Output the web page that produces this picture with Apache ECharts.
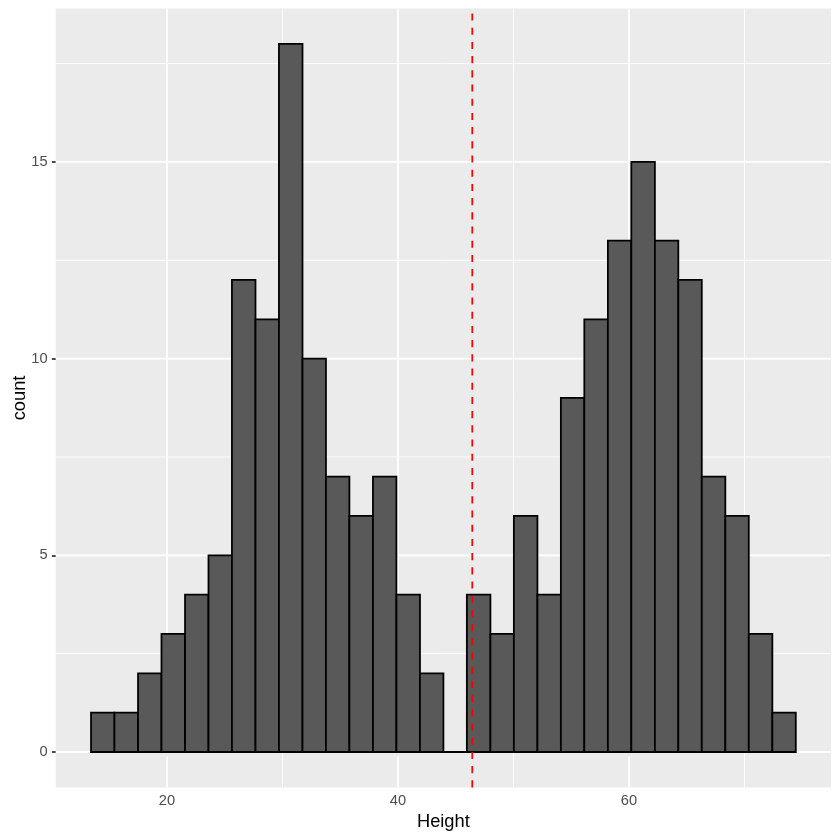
<!DOCTYPE html>
<html>
<head>
<meta charset="utf-8">
<script src="https://cdn.jsdelivr.net/npm/echarts@6/dist/echarts.min.js"></script>
<style>html,body{margin:0;padding:0;background:#fff;}#c{width:840px;height:840px;}</style>
</head>
<body>
<div id="c"></div>
<script>
// Histogram bin edges (31 edges -> 30 bins)
const binEdges = [13.42, 15.45, 17.49, 19.52, 21.56, 23.59, 25.62, 27.66, 29.69, 31.73,
  33.76, 35.79, 37.83, 39.86, 41.90, 43.93, 45.96, 48.00, 50.03, 52.07,
  54.10, 56.13, 58.17, 60.20, 62.24, 64.27, 66.30, 68.34, 70.37, 72.41, 74.44];
const counts = [1, 1, 2, 3, 4, 5, 12, 11, 18, 10, 7, 6, 7, 4, 2, 0,
  4, 3, 6, 4, 9, 11, 13, 15, 13, 12, 7, 6, 3, 1];
const meanHeight = 46.43;
const xTicks = [20, 40, 60];
const xMinor = [10, 30, 50, 70];
const yTicks = [0, 5, 10, 15];
const yMinor = [2.5, 7.5, 12.5, 17.5];
const xRange = [10.37, 77.48];
const yRange = [-0.9, 18.9];

const barData = counts.map((c, i) => [binEdges[i], binEdges[i + 1], c]);
const gridData = []
  .concat(xTicks.map(v => ['x', v, 1]))
  .concat(xMinor.map(v => ['x', v, 0]))
  .concat(yTicks.map(v => ['y', v, 1]))
  .concat(yMinor.map(v => ['y', v, 0]));

const FONT = '"Liberation Sans", Arial, Helvetica, sans-serif';
const chart = echarts.init(document.getElementById('c'), null, {renderer: 'canvas'});

chart.setOption({
  animation: false,
  backgroundColor: '#ffffff',
  grid: {
    left: 55.8, right: 9.1, top: 8.5, bottom: 52.6,
    show: true, backgroundColor: '#EBEBEB', borderWidth: 0,
    containLabel: false,
    outerBoundsMode: 'none'
  },
  xAxis: {
    type: 'value', min: xRange[0], max: xRange[1],
    name: 'Height', nameLocation: 'middle', nameGap: 26, nameMoveOverlap: false,
    nameTextStyle: {color: '#000', fontSize: 18.3, fontFamily: FONT},
    axisLine: {show: false},
    axisTick: {show: true, length: 4.6, customValues: xTicks, lineStyle: {color: '#333333', width: 1.78}},
    axisLabel: {show: true, customValues: xTicks, margin: 6.5, color: '#4D4D4D', fontSize: 14.67, fontFamily: FONT},
    splitLine: {show: false}
  },
  yAxis: {
    type: 'value', min: yRange[0], max: yRange[1],
    name: 'count', nameLocation: 'middle', nameGap: 27, nameRotate: 90, nameMoveOverlap: false,
    nameTextStyle: {color: '#000', fontSize: 18.3, fontFamily: FONT},
    axisLine: {show: false},
    axisTick: {show: true, length: 4.6, customValues: yTicks, lineStyle: {color: '#333333', width: 1.78}},
    axisLabel: {show: true, customValues: yTicks, margin: 8.2, color: '#4D4D4D', fontSize: 14.67, fontFamily: FONT},
    splitLine: {show: false}
  },
  series: [
    {
      type: 'custom', z: 1, silent: true,
      data: gridData,
      encode: {x: -1, y: -1},
      renderItem: function (params, api) {
        const cs = params.coordSys;
        const dir = api.value(0);
        const v = api.value(1);
        const major = api.value(2) === 1;
        const style = {stroke: '#ffffff', lineWidth: major ? 1.78 : 0.89};
        if (dir === 'x') {
          const p = api.coord([v, yRange[0]]);
          return {type: 'line', shape: {x1: p[0], y1: cs.y, x2: p[0], y2: cs.y + cs.height}, style: style};
        } else {
          const p = api.coord([xRange[0], v]);
          return {type: 'line', shape: {x1: cs.x, y1: p[1], x2: cs.x + cs.width, y2: p[1]}, style: style};
        }
      }
    },
    {
      type: 'custom', z: 2,
      data: barData,
      encode: {x: [0, 1], y: 2},
      renderItem: function (params, api) {
        const x0 = api.value(0), x1 = api.value(1), c = api.value(2);
        const pTop = api.coord([x0, c]);
        const pBot = api.coord([x1, 0]);
        return {
          type: 'rect',
          shape: {x: pTop[0], y: pTop[1], width: pBot[0] - pTop[0], height: pBot[1] - pTop[1]},
          style: {fill: '#595959', stroke: '#000000', lineWidth: 1.78}
        };
      }
    },
    {
      type: 'custom', z: 3, silent: true,
      data: [[meanHeight]],
      encode: {x: 0},
      renderItem: function (params, api) {
        const cs = params.coordSys;
        const p = api.coord([api.value(0), 0]);
        return {
          type: 'line',
          shape: {x1: p[0], y1: cs.y + cs.height, x2: p[0], y2: cs.y},
          style: {stroke: '#FF0000', lineWidth: 1.78, lineDash: [7.1, 7.1]}
        };
      }
    }
  ]
});
</script>
</body>
</html>
